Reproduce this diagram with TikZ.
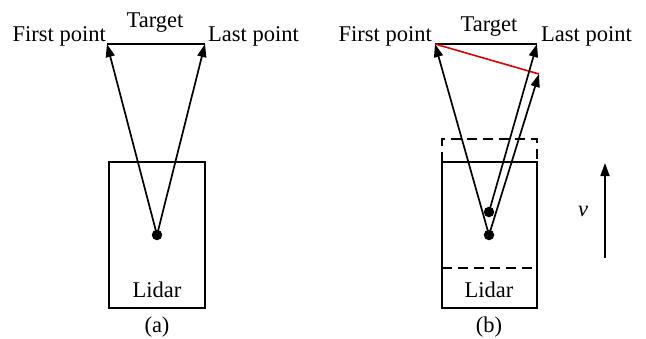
\documentclass[tikz,border=0pt]{standalone}
\usepackage{fontspec}
\setmainfont{Liberation Serif}
\usetikzlibrary{arrows.meta}
\begin{document}
\begin{tikzpicture}[x=1pt,y=-1pt,
  lbl/.style={font=\fontsize{22.5}{27}\selectfont, inner sep=0pt, anchor=base},
  ray/.style={line width=1.7pt, -{Triangle[length=13pt,width=9pt]}},
  box/.style={draw, line width=1.7pt},
  dashln/.style={line width=1.7pt, dash pattern=on 10pt off 6pt},
  dot/.style={circle, fill, inner sep=0pt, minimum size=10.5pt},
  tline/.style={line width=2pt}]
\useasboundingbox (0,0) rectangle (646,338);
% ---------- (a) ----------
\coordinate (fpA) at (107,44);
\coordinate (lpA) at (205,44);
\draw[tline] (fpA) -- (lpA);
\node[lbl] (tgtA) at (155,27) {Target};
\node[lbl, anchor=base east] (fplA) at (106,41) {First point};
\node[lbl, anchor=base west] (lplA) at (208,41) {Last point};
\draw[box] (109,162) rectangle (205,308);
\node[dot] (dA) at (157,235) {};
\node[lbl] (lidA) at (157,297) {Lidar};
\node[lbl] (capA) at (157,332) {(a)};
\draw[ray] (dA.center) -- (fpA);
\draw[ray] (dA.center) -- (lpA);
% ---------- (b) ----------
\coordinate (fpB) at (435,44);
\coordinate (lpB) at (537,44);
\coordinate (rB) at (539,74);
\draw[tline] (fpB) -- (lpB);
\draw[line width=1.6pt, red!85!black] (fpB) -- (rB);
\node[lbl] (tgtB) at (489,31) {Target};
\node[lbl, anchor=base east] (fplB) at (432,41) {First point};
\node[lbl, anchor=base west] (lplB) at (541,41) {Last point};
\draw[box] (442,162) rectangle (537,308);
\draw[dashln] (442,162) -- (442,139) -- (537,139) -- (537,162);
\draw[dashln] (442,268) -- (532,268);
\node[dot] (dB1) at (489,235) {};
\node[dot] (dB2) at (489,212) {};
\node[lbl] (lidB) at (489,297) {Lidar};
\node[lbl] (capB) at (489,332) {(b)};
\draw[ray] (dB1.center) -- (fpB);
\draw[ray] (dB2.center) -- (lpB);
\draw[ray] (dB1.center) -- (rB);
% velocity arrow
\coordinate (vS) at (605,258);
\coordinate (vE) at (605,163);
\draw[ray] (vS) -- (vE);
\node[lbl, font=\fontsize{22.5}{27}\selectfont\itshape] (vl) at (583,216) {v};
\end{tikzpicture}
\end{document}
